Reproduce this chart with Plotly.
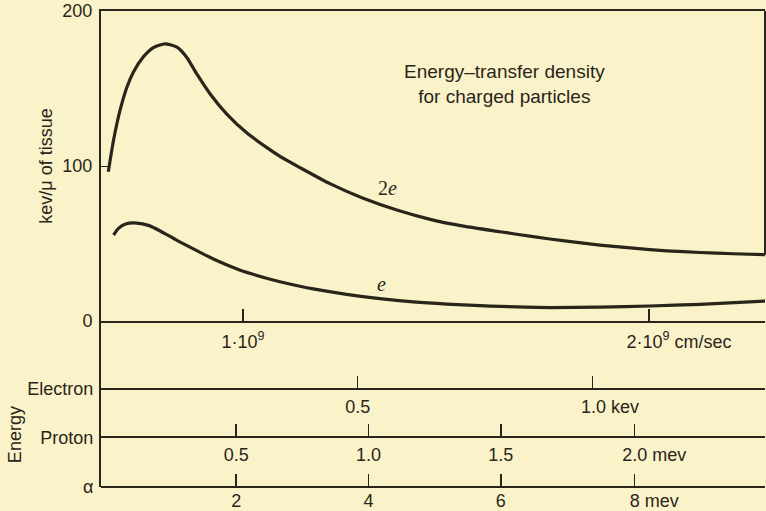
import plotly.graph_objects as go

# ---------------- data (velocity in units of 10^9 cm/sec) ----------------
v_2e = [0.668, 0.681, 0.697, 0.714, 0.730, 0.754, 0.779, 0.808, 0.837, 0.861,
        0.886, 0.919, 0.960, 1.009, 1.058, 1.091, 1.140, 1.214, 1.296, 1.379,
        1.461, 1.543, 1.633, 1.715, 1.797, 1.879, 1.961, 2.044, 2.126, 2.208, 2.288]
y_2e = [96.3, 116.8, 136.0, 151.0, 160.7, 170.3, 176.4, 178.8, 176.7, 170.2,
        159.4, 146.5, 133.5, 121.4, 112.0, 106.2, 99.0, 88.6, 79.2, 71.6,
        65.6, 61.2, 57.6, 54.4, 51.5, 49.0, 47.0, 45.3, 44.2, 43.4, 42.8]

v_e = [0.681, 0.693, 0.709, 0.738, 0.767, 0.796, 0.837, 0.886, 0.935, 0.993,
       1.058, 1.091, 1.140, 1.173, 1.255, 1.337, 1.419, 1.502, 1.584, 1.633,
       1.756, 1.879, 2.002, 2.126, 2.288]
y_e = [55.5, 59.8, 62.5, 63.2, 61.7, 58.1, 52.0, 45.4, 39.0, 32.8,
       27.6, 25.3, 22.4, 20.7, 17.2, 14.4, 12.3, 10.9, 9.9, 9.4,
       8.7, 9.0, 9.7, 10.8, 12.9]

vel_range = [0.650, 2.286]
kev_range = [0, 200]
kev_ticks = [0, 100, 200]

vel_tick_v = [1, 2]
vel_tick_num = ["1·10<sup>9</sup>", "2·10<sup>9</sup>"]
vel_unit = "cm/sec"

electron_tick_v = [1.2825, 1.861]
electron_labels = ["0.5", "1.0"]
electron_unit = "kev"

proton_tick_v = [0.983, 1.309, 1.635, 1.964]
proton_labels = ["0.5", "1.0", "1.5", "2.0"]
proton_unit = "mev"

alpha_tick_v = [0.983, 1.309, 1.635, 1.964]
alpha_labels = ["2", "4", "6", "8"]
alpha_unit = "mev"

scale_names = ["Electron", "Proton", "α"]

curve_labels = ["2<i>e</i>", "<i>e</i>"]
curve_label_v = [1.355, 1.340]
curve_label_y = [86, 24]

title_text = "Energy–transfer density<br>for charged particles"
ytitle = "kev/μ of tissue"
energy_title = "Energy"

# ---------------- styling ----------------
INK = "#2a251b"
BG = "#faf3c9"
FONT = "Liberation Sans"
FS = 18
NB = "\u00a0"

# vertical layout of the lower energy scales, as fractions of the plot area
Y_MAIN_BOTTOM = 0.3487
POS_ELECTRON = 0.2059
POS_PROTON = 0.1044
POS_ALPHA = 0.0


def with_unit(labels, unit, pad):
    out = list(labels)
    out[-1] = NB * pad + out[-1] + " " + unit
    return out


fig = go.Figure()

for vx, vy in ((v_2e, y_2e), (v_e, y_e)):
    fig.add_trace(go.Scatter(x=vx, y=vy, mode="lines",
                             line=dict(color=INK, width=3.2, shape="spline", smoothing=0.6),
                             hoverinfo="skip", showlegend=False))

# invisible anchors so every axis is drawn
for ax, vals in (("x2", electron_tick_v), ("x3", proton_tick_v), ("x4", alpha_tick_v)):
    fig.add_trace(go.Scatter(x=vals, y=[None] * len(vals), xaxis=ax, yaxis="y", mode="markers",
                             marker=dict(opacity=0), hoverinfo="skip", showlegend=False))
fig.add_trace(go.Scatter(x=[None], y=[None], xaxis="x", yaxis="y2", mode="markers",
                         marker=dict(opacity=0), hoverinfo="skip", showlegend=False))

for txt, lx, ly, in zip(curve_labels, curve_label_v, curve_label_y):
    fig.add_annotation(x=lx, y=ly, xref="x", yref="y", text=txt, showarrow=False,
                       xanchor="center", yanchor="middle",
                       font=dict(family="Liberation Serif", size=20, color=INK))

fig.add_annotation(x=0.608, y=0.846, xref="paper", yref="paper", text=title_text, showarrow=False,
                   xanchor="center", yanchor="middle",
                   font=dict(family=FONT, size=19, color=INK), align="center")

fig.add_annotation(x=-0.1295, y=0.109, xref="paper", yref="paper", text=energy_title, showarrow=False,
                   xanchor="center", yanchor="middle",
                   textangle=-90, font=dict(family=FONT, size=FS, color=INK))

# partial right frame line (down to the end of the 2e curve)
fig.add_shape(type="line", xref="x domain", yref="y", x0=1, x1=1, y0=y_2e[-1], y1=kev_range[1],
              line=dict(color=INK, width=2))

common_x = dict(range=vel_range, showgrid=False, zeroline=False, showline=True, linecolor=INK, linewidth=2,
                ticks="inside", ticklen=12, tickwidth=1.5, tickcolor=INK, automargin=False,
                tickfont=dict(family=FONT, size=FS, color=INK), fixedrange=True)

fig.update_layout(
    width=766, height=511,
    margin=dict(l=101, r=1, t=11, b=24),
    paper_bgcolor=BG, plot_bgcolor=BG,
    showlegend=False, hovermode=False,
    xaxis=dict(**common_x, tickvals=vel_tick_v, ticktext=with_unit(vel_tick_num, vel_unit, 12),
               anchor="y", mirror=True, ticklabelstandoff=3),
    xaxis2=dict(**common_x, overlaying="x", anchor="free", position=POS_ELECTRON,
                tickvals=electron_tick_v, ticktext=with_unit(electron_labels, electron_unit, 7),
                ticklabelstandoff=1),
    xaxis3=dict(**common_x, overlaying="x", anchor="free", position=POS_PROTON,
                tickvals=proton_tick_v, ticktext=with_unit(proton_labels, proton_unit, 8),
                ticklabelstandoff=1),
    xaxis4=dict(**common_x, overlaying="x", anchor="free", position=POS_ALPHA,
                tickvals=alpha_tick_v, ticktext=with_unit(alpha_labels, alpha_unit, 8),
                ticklabelstandoff=-3),
    yaxis=dict(domain=[Y_MAIN_BOTTOM, 1], range=kev_range, tickvals=kev_ticks, showgrid=False, zeroline=False,
               showline=True, linecolor=INK, linewidth=2, ticks="inside", ticklen=8, tickcolor=INK,
               tickfont=dict(family=FONT, size=FS, color=INK), anchor="x", fixedrange=True,
               ticklabelstandoff=3, automargin=False,
               title=dict(text=ytitle, font=dict(family=FONT, size=FS, color=INK), standoff=5)),
    yaxis2=dict(domain=[0, Y_MAIN_BOTTOM], range=[POS_ALPHA, Y_MAIN_BOTTOM],
                tickvals=[POS_ELECTRON, POS_PROTON, POS_ALPHA], ticktext=scale_names,
                showgrid=False, zeroline=False, showline=True, linecolor=INK, linewidth=2, ticks="",
                tickfont=dict(family=FONT, size=FS, color=INK), anchor="x", fixedrange=True,
                ticklabelstandoff=2, automargin=False),
)

fig.write_html("out.html", config={"displayModeBar": False, "staticPlot": True},
               post_script="document.body.style.margin='0';document.body.style.padding='0';"
                           "document.documentElement.style.background='" + BG + "';")
